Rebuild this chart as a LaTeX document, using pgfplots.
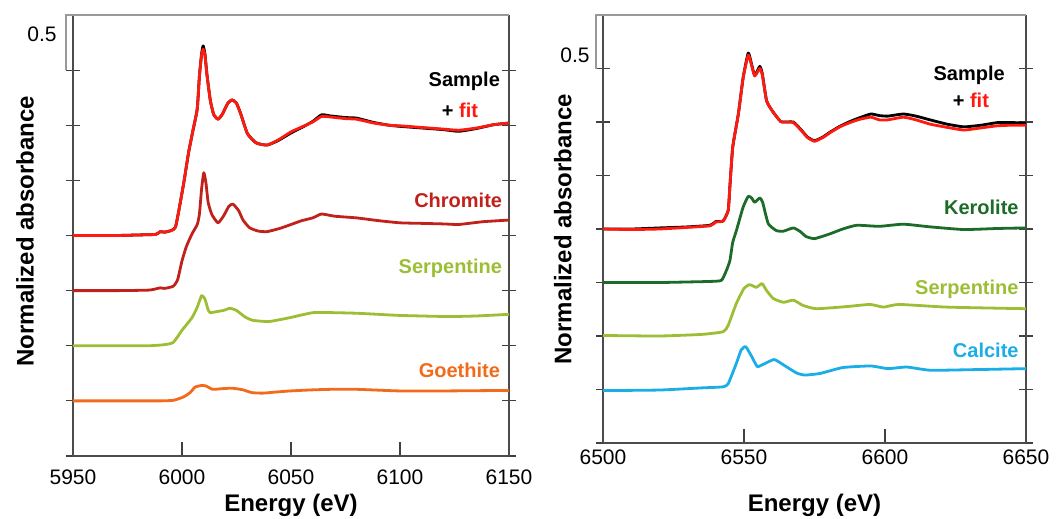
\documentclass[border=0pt]{standalone}
\usepackage{fontspec}
\setmainfont{Liberation Sans}
\usepackage{pgfplots}
\pgfplotsset{compat=1.18}

\definecolor{fitred}{HTML}{FF1A10}
\definecolor{chromite}{HTML}{C0211B}
\definecolor{serp}{HTML}{9CBE35}
\definecolor{goeth}{HTML}{F26A1B}
\definecolor{kerol}{HTML}{1C6B28}
\definecolor{calc}{HTML}{1AADE6}

\pgfplotsset{
  xanes/.style={
    scale only axis, clip=false,
    ymin=0, ymax=8, ytick={0,...,7}, yticklabels={},
    axis x line*=bottom,
    xtick align=inside, ytick align=center,
    major tick length=7pt,
    tick style={black!75, line width=0.6pt},
    axis line style={black!70, line width=0.6pt},
    /pgf/number format/assume math mode=true,
    /pgf/number format/set thousands separator={},
    tick label style={font=\fontsize{10.5}{12}\selectfont},
    label style={font=\bfseries\fontsize{12}{14}\selectfont},
    ylabel={Normalized absorbance},
    xlabel={Energy (eV)},
    every axis plot/.append style={line width=1.4pt, line join=round, no marks, smooth, tension=0.3},
  },
}
\tikzset{tag/.style={font=\bfseries\fontsize{10}{12}\selectfont, anchor=east, inner sep=0pt}}

\begin{document}
\begin{tikzpicture}
\useasboundingbox (-36.5pt,-31.5pt) rectangle (494pt,228pt);

% ---------- left: Cr K-edge ----------
\begin{axis}[xanes, at={(0pt,0pt)}, anchor=south west,
  width=218pt, height=220.5pt,
  xmin=5950, xmax=6150, xtick={5950,6000,6050,6100,6150},
  xticklabel style={yshift=-3.5pt},
  ylabel style={at={(axis description cs:-0.11,0.51)}, anchor=center},
  xlabel style={at={(axis description cs:0.5,-0.111)}, anchor=center},
]
\addplot[black] coordinates {(5950,4.00)(5960,4.00)(5970,4.00)(5980,4.01)(5988,4.02)(5990,4.07)(5992,4.06)(5995,4.09)(5997,4.15)(5999,4.55)(6001,5.0)(6003,5.5)(6005,5.9)(6007,6.3)(6008,6.9)(6009,7.3)(6009.7,7.44)(6010.5,7.3)(6011.5,6.9)(6013,6.45)(6014.5,6.2)(6016.5,6.11)(6018.5,6.2)(6021,6.4)(6023,6.46)(6025,6.4)(6027,6.2)(6030,5.85)(6034,5.68)(6039,5.64)(6044,5.72)(6050,5.86)(6055,5.96)(6060,6.07)(6064,6.19)(6068,6.17)(6075,6.14)(6080,6.13)(6088,6.05)(6095,6.0)(6100,5.98)(6110,5.95)(6120,5.92)(6127,5.89)(6135,5.94)(6143,6.01)(6150,6.04)};
\addplot[fitred] coordinates {(5950,4.00)(5960,4.00)(5970,4.00)(5980,4.01)(5988,4.02)(5990,4.07)(5992,4.06)(5995,4.09)(5997,4.15)(5999,4.55)(6001,5.0)(6003,5.5)(6005,5.9)(6007,6.3)(6008,6.9)(6009,7.28)(6009.7,7.38)(6010.5,7.28)(6011.5,6.9)(6013,6.45)(6014.5,6.2)(6016.5,6.11)(6018.5,6.2)(6021,6.4)(6023,6.46)(6025,6.4)(6027,6.2)(6030,5.85)(6034,5.68)(6039,5.64)(6044,5.73)(6050,5.88)(6055,5.97)(6060,6.06)(6064,6.16)(6068,6.15)(6075,6.12)(6080,6.11)(6088,6.04)(6095,6.0)(6100,5.99)(6110,5.96)(6120,5.93)(6127,5.91)(6135,5.95)(6143,6.01)(6150,6.04)};
\addplot[chromite] coordinates {(5950,3.00)(5970,3.00)(5985,3.01)(5990,3.05)(5992,3.04)(5996,3.08)(5998,3.2)(6000,3.54)(6002,3.8)(6004.6,4.03)(6007,4.2)(6008,4.39)(6009,4.85)(6010,5.14)(6011,4.95)(6012,4.6)(6013.7,4.38)(6016.5,4.23)(6019,4.35)(6021.5,4.53)(6023.4,4.57)(6026,4.45)(6028,4.28)(6031,4.14)(6035,4.08)(6039,4.07)(6045,4.13)(6050,4.2)(6055,4.27)(6060,4.32)(6064,4.39)(6070,4.35)(6080,4.32)(6090,4.27)(6100,4.23)(6110,4.22)(6120,4.21)(6127,4.20)(6138,4.25)(6150,4.28)};
\addplot[serp] coordinates {(5950,2.00)(5970,2.00)(5985,2.00)(5992,2.02)(5996,2.06)(6000,2.28)(6004.6,2.51)(6007,2.7)(6009,2.91)(6010.5,2.85)(6012,2.65)(6013,2.6)(6016,2.62)(6019,2.64)(6022,2.68)(6025,2.64)(6029,2.52)(6032.6,2.46)(6040,2.44)(6049.5,2.51)(6060,2.60)(6070,2.60)(6080,2.59)(6090,2.57)(6100,2.55)(6121.6,2.53)(6135,2.54)(6150,2.57)};
\addplot[goeth] coordinates {(5950,1.00)(5970,1.00)(5990,1.00)(5996,1.01)(6000,1.06)(6002,1.10)(6004,1.16)(6006,1.25)(6009,1.28)(6011,1.27)(6014,1.21)(6018,1.22)(6023,1.23)(6028,1.20)(6032,1.15)(6037,1.14)(6043,1.16)(6049.5,1.18)(6060,1.20)(6069,1.21)(6080,1.21)(6100,1.18)(6120,1.18)(6150,1.19)};

\node[tag, text=black] at (axis cs:6146,6.80) {Sample};
\node[tag] at (axis cs:6136,6.27) {+ \textcolor{fitred}{fit}};
\node[tag, text=chromite] at (axis cs:6147,4.63) {Chromite};
\node[tag, text=serp] at (axis cs:6147,3.40) {Serpentine};
\node[tag, text=goeth] at (axis cs:6146,1.56) {Goethite};

\draw[black!40, line width=0.6pt] (axis cs:6150,8) -- ([xshift=-3.5pt]axis cs:5950,8) -- ([xshift=-3.5pt]axis cs:5950,7);
\node[font=\fontsize{10.5}{12}\selectfont] at ([xshift=-15.5pt]axis cs:5950,7.65) {0.5};
\end{axis}

% ---------- right: Mn K-edge ----------
\begin{axis}[xanes, at={(265pt,6.5pt)}, anchor=south west,
  width=211.5pt, height=214pt,
  xmin=6500, xmax=6650, xtick={6500,6550,6600,6650},
  ylabel style={at={(axis description cs:-0.095,0.5)}, anchor=center},
  xlabel style={at={(axis description cs:0.5,-0.145)}, anchor=center},
]
\addplot[black] coordinates {(6500,4.00)(6510,4.00)(6520,4.02)(6530,4.04)(6538,4.07)(6540,4.14)(6542.6,4.15)(6544.4,4.35)(6545,4.8)(6546,5.53)(6548,6.15)(6549.7,6.83)(6551.5,7.29)(6552.6,7.1)(6553.8,6.87)(6555.6,7.04)(6556.5,6.9)(6558,6.40)(6560,6.21)(6563,6.01)(6565.5,6.0)(6567.5,6.0)(6570,5.87)(6572.5,5.72)(6575,5.65)(6578,5.72)(6580.5,5.81)(6584,5.92)(6587.6,6.01)(6591,6.08)(6595,6.15)(6598,6.12)(6601,6.11)(6606.5,6.15)(6611,6.11)(6616,6.04)(6622,5.96)(6628,5.91)(6634,5.94)(6640,5.99)(6645,5.99)(6650,5.98)};
\addplot[fitred] coordinates {(6500,4.00)(6510,3.99)(6520,4.00)(6530,4.03)(6538,4.06)(6540,4.13)(6542.6,4.15)(6544.4,4.35)(6545,4.8)(6546,5.53)(6548,6.15)(6549.7,6.83)(6551.5,7.25)(6552.6,7.08)(6553.8,6.86)(6555.6,7.0)(6556.5,6.88)(6558,6.40)(6560,6.21)(6563,6.01)(6565.5,6.0)(6567.5,5.99)(6570,5.86)(6572.5,5.71)(6575,5.64)(6578,5.71)(6580.5,5.80)(6584,5.91)(6587.6,5.99)(6591,6.05)(6595,6.09)(6598,6.04)(6601,6.04)(6606.5,6.09)(6611,6.04)(6616,5.96)(6622,5.90)(6628,5.85)(6634,5.89)(6640,5.93)(6645,5.94)(6650,5.94)};
\addplot[kerol] coordinates {(6500,3.00)(6520,3.00)(6530,3.01)(6538,3.02)(6542,3.04)(6543.8,3.23)(6545,3.41)(6546,3.75)(6547.3,3.97)(6549.7,4.41)(6551.5,4.61)(6552.7,4.58)(6553.8,4.50)(6555.6,4.58)(6556.6,4.50)(6558.6,4.10)(6561.5,3.97)(6564,3.96)(6567.5,4.02)(6570,3.95)(6572,3.86)(6575,3.82)(6580.5,3.91)(6585,4.0)(6590,4.07)(6598,4.05)(6606.5,4.09)(6616,4.04)(6628,3.99)(6640,4.01)(6650,4.02)};
\addplot[serp] coordinates {(6500,2.01)(6520,2.00)(6535,2.03)(6542.6,2.08)(6544.4,2.2)(6547.3,2.61)(6550,2.89)(6552,2.96)(6554.4,2.91)(6556.4,2.98)(6558,2.85)(6560.4,2.70)(6564,2.63)(6567.5,2.67)(6571,2.57)(6575.7,2.51)(6586.4,2.55)(6594.7,2.59)(6599.4,2.54)(6605,2.59)(6622,2.54)(6650,2.51)};
\addplot[calc] coordinates {(6500,0.98)(6520,0.99)(6535,1.03)(6542.6,1.05)(6544.4,1.11)(6547.3,1.49)(6549,1.74)(6550.6,1.80)(6552.7,1.62)(6554.7,1.43)(6556.8,1.47)(6560.7,1.56)(6564,1.46)(6568.6,1.31)(6571.6,1.27)(6577,1.30)(6585,1.41)(6595,1.44)(6601,1.39)(6607.7,1.42)(6616,1.36)(6630,1.37)(6650,1.39)};

\node[tag, text=black] at (axis cs:6642.6,6.87) {Sample};
\node[tag] at (axis cs:6637,6.40) {+ \textcolor{fitred}{fit}};
\node[tag, text=kerol] at (axis cs:6647.5,4.40) {Kerolite};
\node[tag, text=serp] at (axis cs:6647.5,2.87) {Serpentine};
\node[tag, text=calc] at (axis cs:6647.5,1.74) {Calcite};

\draw[black!40, line width=0.6pt] (axis cs:6650,8) -- ([xshift=-3.5pt]axis cs:6500,8) -- ([xshift=-3.5pt]axis cs:6500,7);
\node[font=\fontsize{10.5}{12}\selectfont] at ([xshift=-14pt]axis cs:6500,7.24) {0.5};
\end{axis}
\end{tikzpicture}
\end{document}
